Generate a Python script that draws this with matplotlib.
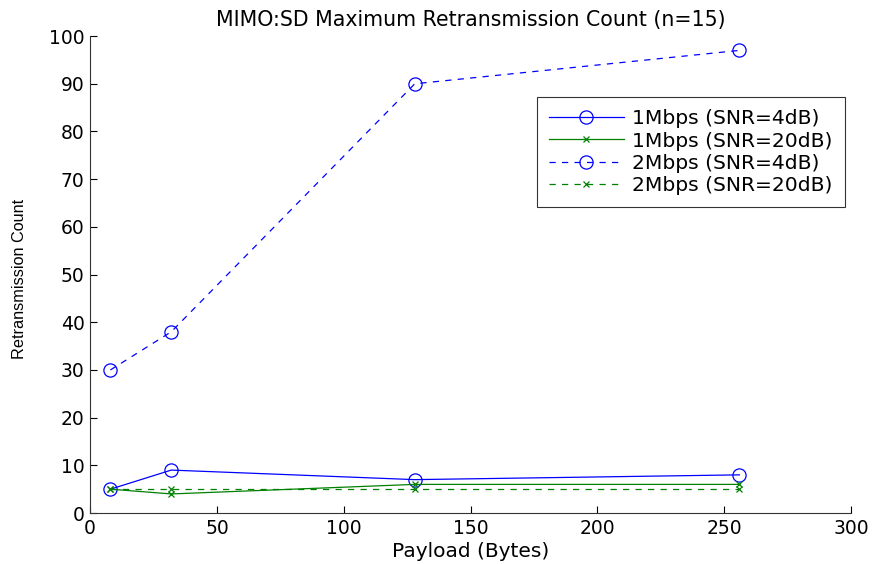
import matplotlib
matplotlib.use("Agg")
import matplotlib.pyplot as plt

payload = [8, 32, 128, 256]
r1_4db = [5, 9, 7, 8]
r1_20db = [5, 4, 6, 6]
r2_4db = [30, 38, 90, 97]
r2_20db = [5, 5, 5, 5]
labels = ["1Mbps (SNR=4dB)", "1Mbps (SNR=20dB)", "2Mbps (SNR=4dB)", "2Mbps (SNR=20dB)"]

plt.rcParams['font.family'] = ['DejaVu Sans']

fig = plt.figure(figsize=(8.75, 5.64), dpi=100)
ax = fig.add_axes([0.103, 0.0904, 0.8696, 0.8456])

blue = (0, 0, 1)
green = (0, 0.5, 0)
dash = (5, 5)
ax.plot(payload, r1_4db, '-', color=blue, marker='o', mfc='none', ms=9.5, mew=0.9, lw=0.9, label=labels[0])
ax.plot(payload, r1_20db, '-', color=green, marker='x', ms=5, mew=0.9, lw=0.9, label=labels[1])
ax.plot(payload, r2_4db, '--', dashes=dash, color=blue, marker='o', mfc='none', ms=9.5, mew=0.9, lw=0.9, label=labels[2])
ax.plot(payload, r2_20db, '--', dashes=dash, color=green, marker='x', ms=5, mew=0.9, lw=0.9, label=labels[3])

ax.set_xlim(0, 300)
ax.set_ylim(0, 100)
ax.set_xticks(range(0, 301, 50))
ax.set_yticks(range(0, 101, 10))
ax.spines['top'].set_visible(False)
ax.spines['right'].set_visible(False)
for s in ['left', 'bottom']:
    ax.spines[s].set_linewidth(0.8)
    ax.spines[s].set_color('#333333')
ax.tick_params(direction='in', length=5, width=0.8, labelsize=13.5, colors='black', pad=4)

ax.set_title("MIMO:SD Maximum Retransmission Count (n=15)", fontsize=14.8, pad=7)
ax.set_xlabel("Payload (Bytes)", fontsize=14.5, labelpad=3)
ax.set_ylabel("Retransmission Count", fontsize=11.7, family=['Liberation Sans'])
ax.yaxis.set_label_coords(-0.083, 0.49)

leg = ax.legend(loc='upper left', bbox_to_anchor=(0.587, 0.872), fontsize=14.6, frameon=True,
                fancybox=False, edgecolor='black', handlelength=3.7, borderpad=0.6,
                labelspacing=0.16, handletextpad=0.4, borderaxespad=0)
leg.get_frame().set_linewidth(0.8)

fig.savefig("out.png", dpi=100)
